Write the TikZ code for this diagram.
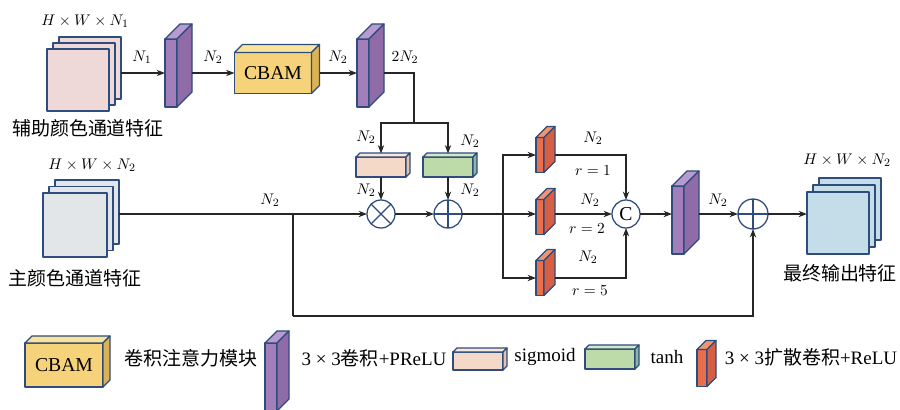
\documentclass[tikz,border=0pt]{standalone}
\usepackage{fontspec}
\setmainfont{Liberation Serif}
\newfontfamily\cjk{Noto Sans CJK SC}
\usetikzlibrary{arrows.meta,positioning,calc}

\definecolor{edgeblue}{HTML}{2E4C7C}
\definecolor{auxpink}{HTML}{EED9D8}
\definecolor{maingray}{HTML}{E3E6E8}
\definecolor{outblue}{HTML}{C5DDE8}
\definecolor{purpF}{HTML}{A27EBA}
\definecolor{purpS}{HTML}{8F6BA8}
\definecolor{purpT}{HTML}{B99AD0}
\definecolor{cbamF}{HTML}{F6D27B}
\definecolor{cbamT}{HTML}{FAE39A}
\definecolor{cbamS}{HTML}{DDB252}
\definecolor{sigF}{HTML}{F4D8C8}
\definecolor{sigT}{HTML}{F9E6DA}
\definecolor{sigS}{HTML}{E3C3B0}
\definecolor{tanhF}{HTML}{BCDBA9}
\definecolor{tanhT}{HTML}{D2E9C4}
\definecolor{tanhS}{HTML}{8DB7A0}
\definecolor{oraF}{HTML}{E86E4E}
\definecolor{oraT}{HTML}{F29470}
\definecolor{oraS}{HTML}{D65E43}

\tikzset{every picture/.style={line width=0.9pt}}
\tikzset{
  edge/.style={draw=edgeblue, line width=0.9pt, line join=round},
  face/.style={edge, inner sep=0pt, outer sep=0pt},
  sheet/.style={face, line width=1.3pt, minimum size=1.55cm},
  op/.style={circle, edge, fill=white, minimum size=0.7cm, inner sep=0pt, outer sep=0pt},
  wire/.style={line width=0.9pt, draw=black!85},
  arr/.style={wire, -{Stealth[length=6pt, width=4.5pt]}},
  lab/.style={font=\fontsize{13.5}{16}\selectfont, inner sep=0pt},
  mlab/.style={font=\fontsize{11}{13}\selectfont, inner sep=0pt},
}

% top and side faces of a box whose front face is node #1
\newcommand{\slab}[4]{%
  \filldraw[edge, fill=#3] (#1.north west) -- ++(#2,-#2) -- ($(#1.north east)+(#2,-#2)$) -- (#1.north east) -- cycle;
  \filldraw[edge, fill=#4] (#1.north east) -- ++(#2,-#2) -- ($(#1.south east)+(#2,-#2)$) -- (#1.south east) -- cycle;
  \coordinate (#1-o) at ($(#1.east)+(#2,0)$);
}

\begin{document}
\begin{tikzpicture}[x=0.025cm, y=-0.025cm]
    \useasboundingbox (0,0) rectangle (900,409);

    % auxiliary branch
    \foreach \i in {3,2,1}
        \node[sheet, fill=auxpink] (aux\i) at ({78+6*(\i-1)},{80-6*(\i-1)}) {};
    \node[mlab] (auxdim) at (85,21) {$H\times W\times N_1$};
    \node[lab] (auxcap) at (88,128) {\cjk 辅助颜色通道特征};

    \node[face, fill=purpF, minimum width=0.3cm, minimum height=1.7cm] (c1) at (171,73) {};
    \slab{c1}{15}{purpT}{purpS}
    \node[face, fill=cbamF, minimum width=1.925cm, minimum height=1.025cm,
          font=\fontsize{14}{16}\selectfont] (cbam) at (273,73) {CBAM};
    \slab{cbam}{8}{cbamT}{cbamS}
    \node[face, fill=purpF, minimum width=0.3cm, minimum height=1.7cm] (c2) at (363,73) {};
    \slab{c2}{15}{purpT}{purpS}

    \draw[arr] (c1.west -| aux3.east) -- (c1.west);
    \draw[arr] (c1-o) -- (cbam.west);
    \draw[arr] (cbam-o) -- (c2.west);
    \node[mlab] (n1) at (142,57) {$N_1$};
    \node[mlab] (n2a) at (213,57) {$N_2$};
    \node[mlab] (n2b) at (338,57) {$N_2$};
    \node[mlab] (n2c) at (405,57) {$2N_2$};

    % gates
    \coordinate (split) at (414,123);
    \node[face, fill=sigF, minimum width=1.25cm, minimum height=0.5cm] (sig) at (381,167) {};
    \slab{sig}{4}{sigT}{sigS}
    \node[face, fill=tanhF, minimum width=1.25cm, minimum height=0.5cm] (tanh) at (448,167) {};
    \slab{tanh}{4}{tanhT}{tanhS}
    \node[op] (mul) at (381,214) {};
    \draw[edge] (mul.north west) -- (mul.south east) (mul.north east) -- (mul.south west);
    \node[op] (add) at (448,214) {};
    \draw[edge] (add.north) -- (add.south) (add.west) -- (add.east);

    \draw[wire] (c2-o) -| (split);
    \draw[arr, shorten >=2.5pt] (split) -| (sig.north);
    \draw[arr, shorten >=2.5pt] (split) -| (tanh.north);
    \draw[arr] (sig.south) -- (mul.north);
    \draw[arr] (tanh.south) -- (add.north);
    \node[mlab] (n2d) at (366,137) {$N_2$};
    \node[mlab] (n2e) at (470,141) {$N_2$};
    \node[mlab] (n2f) at (366,190) {$N_2$};
    \node[mlab] (n2g) at (470,190) {$N_2$};

    % main branch
    \foreach \i in {3,2,1}
        \node[sheet, minimum size=1.6cm, fill=maingray] (main\i) at ({75+6*(\i-1)},{225-6.5*(\i-1)}) {};
    \node[mlab] (maindim) at (92,165) {$H\times W\times N_2$};
    \node[lab] (maincap) at (75,278) {\cjk 主颜色通道特征};
    \coordinate (tap) at (293,214);
    \coordinate (low) at (293,316);
    \draw[arr] (mul.west -| main3.east) -- (mul.west);
    \node[mlab] (n2h) at (270,200) {$N_2$};
    \draw[arr] (mul) -- (add);

    % dilated convolutions
    \coordinate (fork) at (503,214);
    \foreach \i/\y in {1/155,2/217,3/278}{
        \node[face, fill=oraF, minimum width=0.2cm, minimum height=0.875cm] (d\i) at (540,\y) {};
        \slab{d\i}{11}{oraT}{oraS}
    }
    \node[op, font=\fontsize{14}{16}\selectfont] (cc) at (626,214) {C};
    \draw[wire] (add) -- (fork);
    \draw[arr] (fork) |- (d1.west);
    \draw[arr] (fork) -- (d2.west |- fork);
    \draw[arr] (fork) |- (d3.west);
    \draw[arr] (d1-o) -| (cc.north);
    \draw[arr] (d2-o |- cc) -- (cc.west);
    \draw[arr] (d3-o) -| (cc.south);
    \node[mlab] (n2i) at (593,138) {$N_2$};
    \node[mlab] (r1) at (593,171) {$r=1$};
    \node[mlab] (n2j) at (590,200) {$N_2$};
    \node[mlab] (r2) at (587,229) {$r=2$};
    \node[mlab] (n2k) at (588,257) {$N_2$};
    \node[mlab] (r5) at (590,291) {$r=5$};

    % output
    \node[face, fill=purpF, minimum width=0.3cm, minimum height=1.7cm] (c3) at (678,220) {};
    \slab{c3}{15}{purpT}{purpS}
    \node[op, minimum size=0.75cm] (add2) at (753,214) {};
    \draw[edge] (add2.north) -- (add2.south) (add2.west) -- (add2.east);
    \draw[arr] (cc.east) -- (c3.west |- cc);
    \draw[arr] (c3-o |- add2) -- (add2.west);
    \node[mlab] (n2l) at (718,200) {$N_2$};
    \draw[wire] (tap) -- (low);
    \draw[arr] (low) -| (add2.south);
    \foreach \i in {3,2,1}
        \node[sheet, fill=outblue] (out\i) at ({838+6*(\i-1)},{223-7*(\i-1)}) {};
    \draw[arr] (add2.east) -- (out1.west |- add2);
    \node[mlab] (outdim) at (847,160) {$H\times W\times N_2$};
    \node[lab] (outcap) at (840,273) {\cjk 最终输出特征};

    % legend
    \node[face, fill=cbamF, minimum width=1.95cm, minimum height=1.1cm,
          font=\fontsize{14}{16}\selectfont] (kcbam) at (64,365) {CBAM};
    \slab{kcbam}{7}{cbamT}{cbamS}
    \node[lab] (tcbam) at (191,358) {\cjk 卷积注意力模块};
    \node[face, fill=purpF, minimum width=0.3cm, minimum height=1.7cm] (kconv) at (271,377) {};
    \slab{kconv}{12}{purpT}{purpS}
    \node[lab] (tconv) at (374,358) {3 × 3{\cjk 卷积}+PReLU};
    \node[face, fill=sigF, minimum width=1.25cm, minimum height=0.45cm] (ksig) at (478,361) {};
    \slab{ksig}{4}{sigT}{sigS}
    \node[lab] (tsig) at (545,357) {sigmoid};
    \node[face, fill=tanhF, minimum width=1.25cm, minimum height=0.5cm] (ktanh) at (610,359) {};
    \slab{ktanh}{4}{tanhT}{tanhS}
    \node[lab] (ttanh) at (667,357) {tanh};
    \node[face, fill=oraF, minimum width=0.25cm, minimum height=0.925cm] (kdil) at (702,368) {};
    \slab{kdil}{9}{oraT}{oraS}
    \node[lab] (tdil) at (811,357) {3 × 3{\cjk 扩散卷积}+ReLU};
\end{tikzpicture}
\end{document}
